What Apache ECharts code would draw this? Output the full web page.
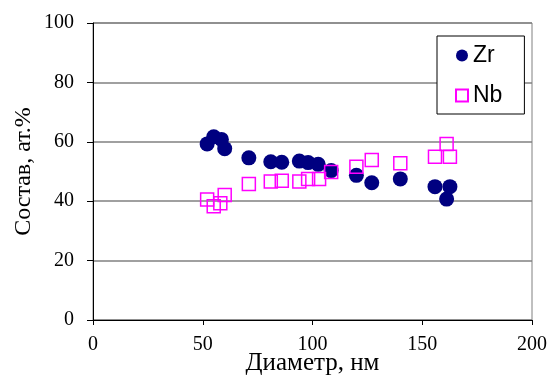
<!DOCTYPE html>
<html>
<head>
<meta charset="utf-8">
<script src="https://cdn.jsdelivr.net/npm/echarts@6/dist/echarts.min.js"></script>
<style>html,body{margin:0;padding:0;background:#fff;}#c{width:548px;height:378px;}</style>
</head>
<body>
<div id="c"></div>
<script>
const zrX = [52, 55, 58.5, 60, 71, 81, 86, 94, 98, 102.6, 108.5, 120, 127, 140, 155.8, 162.6, 161.1];
const zrY = [59.3, 61.7, 60.8, 57.7, 54.6, 53.3, 53.1, 53.5, 53, 52.4, 50.3, 48.7, 46.2, 47.5, 44.9, 44.9, 40.7];
const nbX = [52, 55, 58, 60, 71, 81, 86, 94, 98, 103, 108.5, 120, 127, 140, 155.8, 161.1, 162.6];
const nbY = [40.6, 38.3, 39.3, 42.1, 45.8, 46.6, 46.9, 46.6, 47.5, 47.5, 49.8, 51.6, 53.9, 52.8, 55, 59.3, 55];
const seriesNames = ['Zr', 'Nb'];
const xTitle = 'Диаметр, нм';
const yTitle = 'Состав, ат.%';

const chart = echarts.init(document.getElementById('c'), null, {renderer: 'canvas'});
const serif = '"Liberation Serif", "Times New Roman", serif';
chart.setOption({
  animation: false,
  backgroundColor: '#fff',
  grid: {left: 93, top: 23, right: 16, bottom: 58, show: true, borderColor: '#808080', borderWidth: 1,
         containLabel: false, outerBoundsMode: 'none'},
  legend: {
    orient: 'vertical', left: 437, top: 36,
    padding: [8, 22, 7, 18], itemGap: 17,
    itemWidth: 12, itemHeight: 12,
    backgroundColor: '#fff', borderColor: '#000', borderWidth: 1,
    textStyle: {fontFamily: '"Liberation Sans", Arial, sans-serif', fontSize: 23, color: '#000'},
    data: [{name: seriesNames[0], icon: 'circle'}, {name: seriesNames[1], icon: 'rect'}]
  },
  xAxis: {
    type: 'value', min: 0, max: 200, interval: 50,
    name: xTitle, nameLocation: 'middle', nameGap: 31, nameMoveOverlap: false,
    nameTextStyle: {fontFamily: serif, fontSize: 25, color: '#000'},
    axisLine: {show: true, lineStyle: {color: '#000', width: 1}},
    axisTick: {show: true, length: 5, lineStyle: {color: '#000'}},
    axisLabel: {fontFamily: serif, fontSize: 20, color: '#000', margin: 15},
    splitLine: {show: false}
  },
  yAxis: {
    type: 'value', min: 0, max: 100, interval: 20,
    name: yTitle, nameLocation: 'middle', nameGap: 57, nameMoveOverlap: false,
    nameTextStyle: {fontFamily: serif, fontSize: 24, color: '#000'},
    axisLine: {show: true, lineStyle: {color: '#000', width: 1}},
    axisTick: {show: true, length: 6, lineStyle: {color: '#000'}},
    axisLabel: {fontFamily: serif, fontSize: 20, color: '#000', margin: 19},
    splitLine: {show: true, lineStyle: {color: '#808080', width: 1.5}}
  },
  series: [
    {
      name: seriesNames[0], type: 'scatter', symbol: 'circle', symbolSize: 15,
      itemStyle: {color: '#000080', opacity: 1},
      data: zrX.map((x, i) => [x, zrY[i]])
    },
    {
      name: seriesNames[1], type: 'scatter', symbol: 'rect', symbolSize: 13,
      itemStyle: {color: 'rgba(255,255,255,0)', borderColor: '#FF00FF', borderWidth: 1.5, opacity: 1},
      data: nbX.map((x, i) => [x, nbY[i]])
    }
  ]
});
</script>
</body>
</html>
